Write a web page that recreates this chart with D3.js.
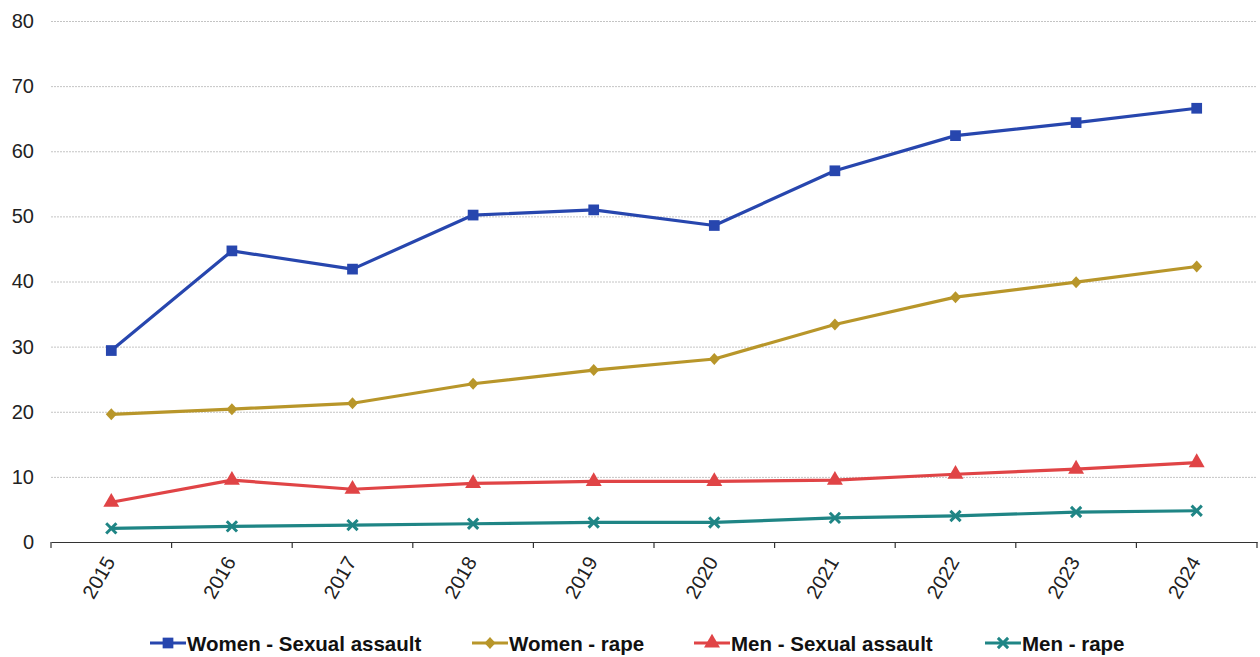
<!DOCTYPE html>
<html><head><meta charset="utf-8">
<script src="https://cdn.jsdelivr.net/npm/d3@7"></script>
<style>body{margin:0;background:#fff}svg{display:block;font-family:"Liberation Sans",Arial,sans-serif}</style>
</head><body><svg id="c" width="1260" height="657"></svg>
<script>
const years = ["2015","2016","2017","2018","2019","2020","2021","2022","2023","2024"];
const womenSexualAssault = [29.4, 44.7, 41.9, 50.2, 51.0, 48.6, 57.0, 62.4, 64.4, 66.6];
const womenRape = [19.6, 20.4, 21.3, 24.3, 26.4, 28.1, 33.4, 37.6, 39.9, 42.3];
const menSexualAssault = [6.1, 9.5, 8.1, 9.0, 9.3, 9.3, 9.5, 10.4, 11.2, 12.2];
const menRape = [2.1, 2.4, 2.6, 2.8, 3.0, 3.0, 3.7, 4.0, 4.6, 4.8];
const seriesNames = ["Women - Sexual assault","Women - rape","Men - Sexual assault","Men - rape"];
const yTicks = [0,10,20,30,40,50,60,70,80];

const series = [
  {name: seriesNames[0], values: womenSexualAssault, color: "#2746AE", sym: "square"},
  {name: seriesNames[1], values: womenRape, color: "#B8962A", sym: "diamond"},
  {name: seriesNames[2], values: menSexualAssault, color: "#E04446", sym: "triangle"},
  {name: seriesNames[3], values: menRape, color: "#1F8585", sym: "x"}
];

const svg = d3.select("#c");
const L = 51, R = 1257, T = 21, B = 542;
const x = d3.scaleBand().domain(years).range([L, R]);
const y = d3.scaleLinear().domain([0, 80]).range([B, T]);

// gridlines
svg.append("g").selectAll("line").data(yTicks.filter(d => d > 0)).join("line")
  .attr("x1", L).attr("x2", R).attr("y1", d => y(d) + 0.5).attr("y2", d => y(d) + 0.5)
  .attr("stroke", "#c4c4c4").attr("stroke-width", 1).attr("stroke-dasharray", "2,1");

// y axis labels
const ya = svg.append("g").attr("transform", `translate(${L},0)`)
  .call(d3.axisLeft(y).tickValues(yTicks).tickSize(0).tickPadding(17));
ya.select(".domain").remove();
ya.selectAll("text").attr("font-size", 20).attr("fill", "#222").style("font-family", "Liberation Sans, Arial, sans-serif");

// x axis
const xa = svg.append("g").attr("transform", `translate(0,${B})`)
  .call(d3.axisBottom(x).tickSize(0));
xa.select(".domain").attr("stroke", "#333").attr("stroke-width", 1.2);
xa.selectAll("text").remove();
const bounds = years.map(d => x(d)).concat([R]);
xa.selectAll("line.bt").data(bounds).join("line").attr("class", "bt")
  .attr("x1", d => d).attr("x2", d => d).attr("y1", 0).attr("y2", 6)
  .attr("stroke", "#333").attr("stroke-width", 1.2);
svg.append("g").selectAll("text").data(years).join("text")
  .attr("transform", d => `translate(${x(d) + x.bandwidth()/2},${B + 17}) rotate(-60)`)
  .attr("text-anchor", "end").attr("dominant-baseline", "middle")
  .attr("font-size", 20).attr("fill", "#222").text(d => d);

const line = d3.line().x((d, i) => x(years[i]) + x.bandwidth()/2).y(d => y(d));

function symPath(sym) {
  if (sym === "square") return d3.symbol(d3.symbolSquare, 115)();
  if (sym === "diamond") return "M0,-6L5.5,0L0,6L-5.5,0Z";
  if (sym === "triangle") return d3.symbol(d3.symbolTriangle, 110)();
  return d3.symbol(d3.symbolX, 70)();
}

series.forEach(s => {
  svg.append("path").datum(s.values).attr("d", line)
    .attr("fill", "none").attr("stroke", s.color).attr("stroke-width", 3.2).attr("stroke-linejoin", "round");
  svg.append("g").selectAll("path").data(s.values).join("path")
    .attr("transform", (d, i) => `translate(${x(years[i]) + x.bandwidth()/2},${y(d)})`)
    .attr("d", symPath(s.sym))
    .attr("fill", s.color)
    .attr("stroke", s.sym === "x" ? s.color : "none")
    .attr("stroke-width", s.sym === "x" ? 3 : 0);
});

// legend
const legX = [150, 472, 694, 985];
const lg = svg.append("g");
series.forEach((s, i) => {
  const g = lg.append("g").attr("transform", `translate(${legX[i]},643)`);
  g.append("line").attr("x1", 0).attr("x2", 36).attr("stroke", s.color).attr("stroke-width", 3.2);
  g.append("path").attr("transform", "translate(18,0)").attr("d", symPath(s.sym))
    .attr("fill", s.color).attr("stroke", s.sym === "x" ? s.color : "none").attr("stroke-width", 3);
  g.append("text").attr("x", 37).attr("y", 0).attr("dominant-baseline", "central")
    .attr("font-size", 20.5).attr("font-weight", "bold").attr("fill", "#111").text(s.name);
});
</script></body></html>
